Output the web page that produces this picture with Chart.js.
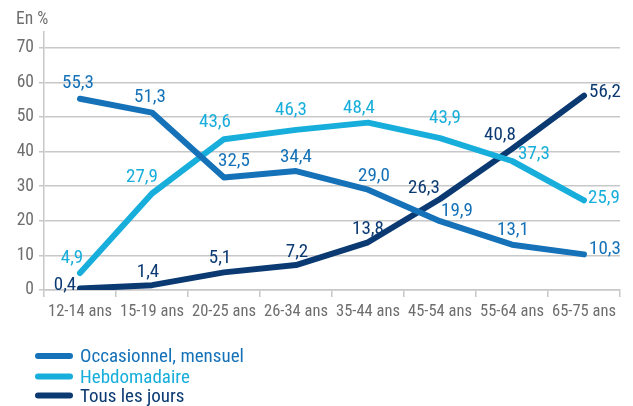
<!DOCTYPE html>
<html>
<head>
<meta charset="utf-8">
<script src="https://cdn.jsdelivr.net/npm/chart.js@4/dist/chart.umd.min.js"></script>
<style>
  html, body { margin: 0; padding: 0; background: #fff; }
  #wrap { width: 633px; height: 406px; position: relative; }
</style>
</head>
<body>
<div id="wrap"><canvas id="c" width="633" height="406"></canvas></div>
<script>
// ---- data ----
const categories = ['12-14 ans', '15-19 ans', '20-25 ans', '26-34 ans', '35-44 ans', '45-54 ans', '55-64 ans', '65-75 ans'];
const occasionnel = [55.3, 51.3, 32.5, 34.4, 29.0, 19.9, 13.1, 10.3];
const hebdomadaire = [4.9, 27.9, 43.6, 46.3, 48.4, 43.9, 37.3, 25.9];
const tousLesJours = [0.4, 1.4, 5.1, 7.2, 13.8, 26.3, 40.8, 56.2];
const seriesNames = ['Occasionnel, mensuel', 'Hebdomadaire', 'Tous les jours'];
const yTickValues = [0, 10, 20, 30, 40, 50, 60, 70];
const unitLabel = 'En %';

// ---- styles ----
const colors = ['#1571b8', '#17aedb', '#0b3a73'];
const fontFam = '"Roboto Condensed", Roboto, sans-serif';
const gray = '#6e6e6e';
const gridColor = '#c8c8c8';

// label offsets (dx, dy to text baseline) relative to each point
const labelOffsets = [
  [[-2,-11],[-2,-11],[10,-12],[0,-9],[6,-9],[17,-5],[1,-10],[21,0]],
  [[-8,-10],[-10,-12],[-9,-12],[-5,-15],[-9,-10],[5,-15],[22,-2],[20,3]],
  [[-15,1],[-4,-8],[-4,-9],[1,-8],[0,-8],[-16,-6],[-12,-9],[21,1]]
];

const dataLabelPlugin = {
  id: 'dataLabels',
  afterDatasetsDraw(chart) {
    const ctx = chart.ctx;
    ctx.save();
    ctx.font = '19px ' + fontFam;
    ctx.textAlign = 'center';
    ctx.textBaseline = 'alphabetic';
    chart.data.datasets.forEach((ds, di) => {
      const meta = chart.getDatasetMeta(di);
      ctx.fillStyle = ds.borderColor;
      meta.data.forEach((pt, i) => {
        const off = labelOffsets[di][i];
        const txt = ds.data[i].toFixed(1).replace('.', ',');
        ctx.fillText(txt, pt.x + off[0], pt.y + off[1]);
      });
    });
    ctx.restore();
  }
};

const extrasPlugin = {
  id: 'extras',
  afterDraw(chart) {
    const ctx = chart.ctx;
    ctx.save();
    // unit label
    ctx.font = '17.5px ' + fontFam;
    ctx.fillStyle = gray;
    ctx.textAlign = 'left';
    ctx.textBaseline = 'alphabetic';
    ctx.fillText(unitLabel, 16, 24);
    // legend
    const ys = [356, 376.5, 395.5];
    ctx.font = '19px ' + fontFam;
    chart.data.datasets.forEach((ds, i) => {
      ctx.strokeStyle = ds.borderColor;
      ctx.lineWidth = 6;
      ctx.lineCap = 'round';
      ctx.beginPath();
      ctx.moveTo(38, ys[i]);
      ctx.lineTo(70, ys[i]);
      ctx.stroke();
      ctx.fillStyle = ds.borderColor;
      ctx.fillText(ds.label, 80, ys[i] + 6);
    });
    ctx.restore();
  }
};

const mk = (label, data, color) => ({
  label, data,
  borderColor: color,
  backgroundColor: color,
  borderWidth: 6,
  pointRadius: 0,
  pointHoverRadius: 0,
  tension: 0,
  borderCapStyle: 'round',
  borderJoinStyle: 'round',
  fill: false
});

new Chart(document.getElementById('c'), {
  type: 'line',
  data: {
    labels: categories,
    datasets: [
      mk(seriesNames[0], occasionnel, colors[0]),
      mk(seriesNames[1], hebdomadaire, colors[1]),
      mk(seriesNames[2], tousLesJours, colors[2])
    ]
  },
  options: {
    responsive: false,
    animation: false,
    events: [],
    layout: { padding: { top: 32, left: 0, right: 13, bottom: 0 } },
    plugins: { legend: { display: false }, tooltip: { enabled: false }, title: { display: false } },
    scales: {
      x: {
        type: 'category',
        offset: true,
        grid: { offset: true, drawOnChartArea: false, drawTicks: true, tickLength: 7, color: gridColor, lineWidth: 1.5 },
        border: { display: true, color: gridColor, width: 1.5 },
        ticks: { font: { family: fontFam, size: 16.5 }, color: gray, padding: 5, maxRotation: 0, autoSkip: false },
        afterFit(scale) { scale.height = 116; }
      },
      y: {
        min: 0,
        max: 74.6,
        afterBuildTicks(scale) { scale.ticks = yTickValues.map(v => ({ value: v })); },
        grid: { color: gridColor, lineWidth: 1.5, drawTicks: true, tickLength: 5 },
        border: { display: true, color: gridColor, width: 1.5 },
        ticks: { font: { family: fontFam, size: 17.5 }, color: gray, padding: 5 },
        afterFit(scale) { scale.width = 44; }
      }
    }
  },
  plugins: [dataLabelPlugin, extrasPlugin]
});
</script>
</body>
</html>
